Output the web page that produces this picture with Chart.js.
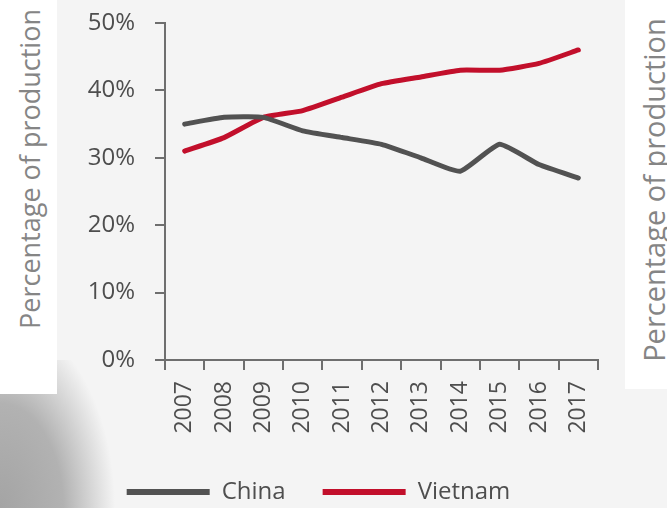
<!DOCTYPE html>
<html>
<head>
<meta charset="utf-8">
<script src="https://cdn.jsdelivr.net/npm/chart.js@4"></script>
<style>
  html, body { margin: 0; padding: 0; }
  body { width: 667px; height: 508px; background: #f4f4f4; position: relative; overflow: hidden; font-family: "Open Sans", sans-serif; }
  #blob { position: absolute; left: 0; top: 360px; width: 200px; height: 148px;
          background: radial-gradient(ellipse 115px 190px at 0px 148px, #a4a4a4 0%, #b2b2b2 55%, rgba(244,244,244,0) 100%); }
  .box { position: absolute; background: #ffffff; }
  #leftBox { left: 0; top: 0; width: 57px; height: 394px; }
  #rightBox { left: 625px; top: 0; width: 42px; height: 389px; }
  .ytitle { position: absolute; color: #858585; white-space: nowrap; transform: translate(-50%, -50%) rotate(-90deg); }
  #leftTitle { left: 29px; top: 169px; font-size: 27px; }
  #rightTitle { left: 653px; top: 190px; font-size: 29px; }
  canvas { position: absolute; left: 0; top: 0; }
</style>
</head>
<body>
<div id="blob"></div>
<div class="box" id="leftBox"></div>
<div class="box" id="rightBox"></div>
<div class="ytitle" id="leftTitle">Percentage of production</div>
<div class="ytitle" id="rightTitle">Percentage of production</div>
<canvas id="chart" width="667" height="508"></canvas>
<script>
// data
const years = ['2007', '2008', '2009', '2010', '2011', '2012', '2013', '2014', '2015', '2016', '2017'];
const china = [35, 36, 36, 34, 33, 32, 30, 28, 32, 29, 27];
const vietnam = [31, 33, 36, 37, 39, 41, 42, 43, 43, 44, 46];

const axisColor = '#6e6e6e';
const textColor = '#4e4e4e';

new Chart(document.getElementById('chart'), {
    type: 'line',
    data: {
        labels: years,
        datasets: [
            {
                label: 'China',
                data: china,
                borderColor: '#525252',
                backgroundColor: '#525252',
                borderWidth: 5,
                pointRadius: 0,
                tension: 0.15,
                borderCapStyle: 'round'
            },
            {
                label: 'Vietnam',
                data: vietnam,
                borderColor: '#c20f2b',
                backgroundColor: '#c20f2b',
                borderWidth: 5,
                pointRadius: 0,
                tension: 0.15,
                borderCapStyle: 'round'
            }
        ]
    },
    options: {
        responsive: false,
        animation: false,
        events: [],
        layout: {
            padding: { left: 0, right: 30, top: 23, bottom: -6 }
        },
        plugins: {
            legend: {
                position: 'bottom',
                labels: {
                    boxWidth: 83,
                    boxHeight: 6,
                    padding: 37,
                    color: textColor,
                    font: { family: 'Open Sans', size: 24 },
                    generateLabels: function (chart) {
                        return Chart.defaults.plugins.legend.labels.generateLabels(chart).map(item => {
                            item.lineWidth = 0;
                            return item;
                        });
                    }
                }
            },
            tooltip: { enabled: false }
        },
        scales: {
            x: {
                offset: true,
                grid: {
                    offset: true,
                    drawOnChartArea: false,
                    color: axisColor,
                    lineWidth: 2,
                    tickLength: 10
                },
                border: { color: axisColor, width: 2 },
                ticks: {
                    color: textColor,
                    font: { family: 'Open Sans', size: 23 },
                    minRotation: 90,
                    maxRotation: 90,
                    padding: 11,
                    autoSkip: false
                },
                afterFit: s => { s.height = 83; }
            },
            y: {
                min: 0,
                max: 50,
                grid: {
                    drawOnChartArea: false,
                    color: axisColor,
                    lineWidth: 2,
                    tickLength: 10
                },
                border: { color: axisColor, width: 2 },
                ticks: {
                    stepSize: 10,
                    color: textColor,
                    font: { family: 'Open Sans', size: 24 },
                    padding: 20,
                    callback: v => v + '%'
                },
                afterFit: s => {
                    s.width = 165;
                    s.paddingTop = 0;
                    s.paddingBottom = 0;
                }
            },
            y2: {
                position: 'right',
                grid: { display: false },
                border: { display: false },
                ticks: { display: false },
                afterFit: s => { s.width = 39; }
            }
        }
    }
});
</script>
</body>
</html>
